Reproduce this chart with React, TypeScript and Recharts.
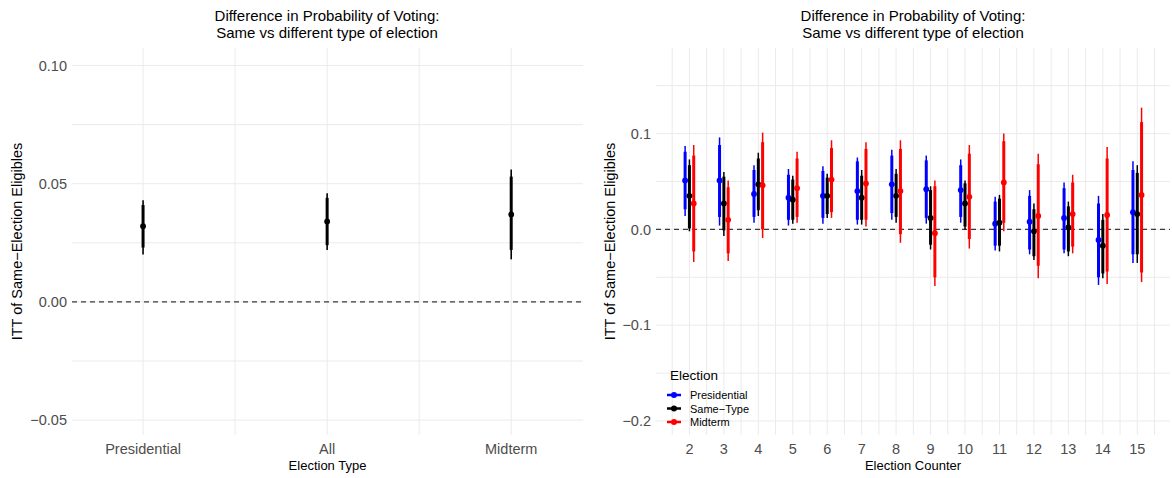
import React from 'react'
import {
  ComposedChart,
  Scatter,
  ErrorBar,
  XAxis,
  YAxis,
  ReferenceLine,
  Legend,
} from 'recharts'

const FONT = '"Liberation Sans", Arial, Helvetica, sans-serif'
const GRID = '#EBEBEB'
const TICK_GREY = '#4D4D4D'

// left panel: pooled estimates by election type
const typeLabels = ['Presidential', 'All', 'Midterm']
const typeEst = [0.032, 0.034, 0.037]
const typeThickLo = [0.023, 0.024, 0.022]
const typeThickHi = [0.041, 0.044, 0.053]
const typeThinLo = [0.020, 0.022, 0.018]
const typeThinHi = [0.043, 0.046, 0.056]

// right panel: estimates by election counter
const counters = [2, 3, 4, 5, 6, 7, 8, 9, 10, 11, 12, 13, 14, 15]

const presEst = [0.051, 0.051, 0.037, 0.033, 0.035, 0.040, 0.047, 0.042, 0.041, 0.006, 0.008, 0.012, -0.011, 0.018]
const presThickLo = [0.021, 0.013, 0.013, 0.010, 0.012, 0.010, 0.017, 0.012, 0.013, -0.017, -0.021, -0.021, -0.050, -0.026]
const presThickHi = [0.081, 0.088, 0.062, 0.057, 0.061, 0.071, 0.077, 0.072, 0.067, 0.029, 0.035, 0.043, 0.027, 0.062]
const presThinLo = [0.014, 0.004, 0.007, 0.004, 0.006, 0.005, 0.010, 0.006, 0.007, -0.022, -0.026, -0.025, -0.058, -0.035]
const presThinHi = [0.087, 0.096, 0.067, 0.063, 0.066, 0.075, 0.083, 0.077, 0.073, 0.034, 0.041, 0.049, 0.035, 0.071]

const sameEst = [0.035, 0.027, 0.047, 0.031, 0.035, 0.033, 0.035, 0.012, 0.027, 0.007, -0.002, 0.002, -0.017, 0.016]
const sameThickLo = [0.001, -0.001, 0.020, 0.010, 0.016, 0.010, 0.013, -0.016, 0.003, -0.017, -0.028, -0.023, -0.046, -0.026]
const sameThickHi = [0.067, 0.055, 0.074, 0.052, 0.054, 0.056, 0.058, 0.041, 0.048, 0.032, 0.021, 0.024, 0.010, 0.059]
const sameThinLo = [-0.002, -0.007, 0.014, 0.006, 0.012, 0.005, 0.007, -0.021, 0.000, -0.023, -0.032, -0.028, -0.051, -0.035]
const sameThinHi = [0.073, 0.060, 0.080, 0.056, 0.058, 0.062, 0.063, 0.045, 0.051, 0.036, 0.027, 0.029, 0.016, 0.067]

const midEst = [0.027, 0.010, 0.046, 0.043, 0.052, 0.048, 0.040, -0.004, 0.034, 0.049, 0.014, 0.016, 0.015, 0.036]
const midThickLo = [-0.023, -0.025, 0.000, 0.013, 0.018, 0.010, -0.005, -0.050, -0.010, 0.007, -0.038, -0.018, -0.044, -0.045]
const midThickHi = [0.077, 0.044, 0.091, 0.074, 0.085, 0.084, 0.084, 0.045, 0.079, 0.092, 0.068, 0.049, 0.074, 0.112]
const midThinLo = [-0.034, -0.033, -0.009, 0.007, 0.012, 0.003, -0.014, -0.059, -0.020, -0.002, -0.051, -0.025, -0.057, -0.055]
const midThinHi = [0.088, 0.051, 0.101, 0.081, 0.093, 0.091, 0.093, 0.051, 0.088, 0.100, 0.079, 0.057, 0.086, 0.127]

const seriesNames = ['Presidential', 'Same\u2212Type', 'Midterm']
const seriesColors = ['#0000FF', '#000000', '#FF0000']

// tick / grid values
const leftYTicks = [-0.05, 0, 0.05, 0.1]
const leftYMinor = [-0.025, 0.025, 0.075]
const leftXTicks = [1, 2, 3]
const leftXMinor = [1.5, 2.5]
const rightYTicks = [-0.2, -0.1, 0, 0.1]
const rightYMinor = [-0.15, -0.05, 0.05, 0.15]
const rightXMinor = [1.5, 2.5, 3.5, 4.5, 5.5, 6.5, 7.5, 8.5, 9.5, 10.5, 11.5, 12.5, 13.5, 14.5, 15.5]

const DODGE = 0.125

function buildRows(xs: number[], est: number[], thickLo: number[], thickHi: number[], thinLo: number[], thinHi: number[], shift = 0) {
  return xs.map((x, i) => ({
    x: x + shift,
    y: est[i],
    thick: [est[i] - thickLo[i], thickHi[i] - est[i]],
    thin: [est[i] - thinLo[i], thinHi[i] - est[i]],
  }))
}

const typeRows = buildRows(leftXTicks, typeEst, typeThickLo, typeThickHi, typeThinLo, typeThinHi)
const counterSeries = [
  buildRows(counters, presEst, presThickLo, presThickHi, presThinLo, presThinHi, -DODGE),
  buildRows(counters, sameEst, sameThickLo, sameThickHi, sameThinLo, sameThinHi, 0),
  buildRows(counters, midEst, midThickLo, midThickHi, midThinLo, midThinHi, DODGE),
]

const minus = (s: string) => s.replace('-', '\u2212')
const fmt2 = (v: number) => minus(v.toFixed(2))
const fmt1 = (v: number) => minus(v.toFixed(1))

const dot = (color: string) => (p: any) => <circle cx={p.cx} cy={p.cy} r={2.9} fill={color} />

const tickStyle = { fill: TICK_GREY, fontSize: 14.5, fontFamily: FONT }
const yTitle = {
  value: 'ITT of Same\u2212Election Eligibles',
  angle: -90,
  position: 'insideLeft' as const,
  style: { textAnchor: 'middle', fill: '#000', fontSize: 14.5, fontFamily: FONT },
}

function Title({ center }: { center: number }) {
  return (
    <div
      style={{
        position: 'absolute',
        left: center - 200,
        width: 400,
        top: 7,
        textAlign: 'center',
        fontFamily: FONT,
        fontSize: 15,
        lineHeight: '17px',
        color: '#000',
      }}
    >
      Difference in Probability of Voting:
      <br />
      Same vs different type of election
    </div>
  )
}

function ElectionLegend() {
  return (
    <svg width={110} height={62} style={{ fontFamily: FONT, overflow: 'visible' }}>
      <text x={4} y={14} fontSize={13.5} fill="#000">Election</text>
      {seriesNames.map((name, i) => {
        const y = 29 + i * 13.5
        return (
          <g key={name}>
            <line x1={1} x2={15} y1={y} y2={y} stroke={seriesColors[i]} strokeWidth={2.5} />
            <circle cx={8} cy={y} r={3} fill={seriesColors[i]} />
            <text x={24} y={y + 4} fontSize={11} fill="#000">{name}</text>
          </g>
        )
      })}
    </svg>
  )
}

function LeftPanel() {
  return (
    <ComposedChart width={590} height={478} margin={{ top: 48, right: 7, bottom: 0, left: 0 }}>
      {leftYTicks.concat(leftYMinor).map((v) => (
        <ReferenceLine key={'y' + v} y={v} stroke={GRID} strokeWidth={1} />
      ))}
      {leftXTicks.concat(leftXMinor).map((v) => (
        <ReferenceLine key={'x' + v} x={v} stroke={GRID} strokeWidth={1} />
      ))}
      <ReferenceLine y={0} stroke="#3A3A3A" strokeDasharray="5 4" strokeWidth={1.1} />
      <XAxis
        type="number"
        dataKey="x"
        domain={[0.614, 3.39]}
        ticks={leftXTicks}
        allowDataOverflow
        height={43}
        axisLine={false}
        tickLine={false}
        tickSize={0}
        tickMargin={9}
        tick={tickStyle}
        tickFormatter={(v: number) => typeLabels[v - 1]}
        label={{ value: 'Election Type', position: 'insideBottom', offset: 8, style: { fill: '#000', fontSize: 13, fontFamily: FONT } }}
      />
      <YAxis
        type="number"
        dataKey="y"
        domain={[-0.0563, 0.1074]}
        ticks={leftYTicks}
        allowDataOverflow
        width={72}
        axisLine={false}
        tickLine={false}
        tickSize={0}
        tickMargin={5}
        tick={tickStyle}
        tickFormatter={fmt2}
        label={{ ...yTitle, offset: 17 }}
      />
      <Scatter data={typeRows} dataKey="y" fill="#000" shape={dot('#000')} isAnimationActive={false}>
        <ErrorBar dataKey="thin" direction="y" width={0} stroke="#000" strokeWidth={1.6} isAnimationActive={false} />
        <ErrorBar dataKey="thick" direction="y" width={0} stroke="#000" strokeWidth={3} isAnimationActive={false} />
      </Scatter>
    </ComposedChart>
  )
}

function RightPanel() {
  return (
    <ComposedChart width={582} height={478} margin={{ top: 48, right: 2, bottom: 0, left: 0 }}>
      {rightYTicks.concat(rightYMinor).map((v) => (
        <ReferenceLine key={'y' + v} y={v} stroke={GRID} strokeWidth={1} />
      ))}
      {counters.concat(rightXMinor).map((v) => (
        <ReferenceLine key={'x' + v} x={v} stroke={GRID} strokeWidth={1} />
      ))}
      <ReferenceLine y={0} stroke="#3A3A3A" strokeDasharray="5 4" strokeWidth={1.1} />
      <XAxis
        type="number"
        dataKey="x"
        domain={[1.03, 15.95]}
        ticks={counters}
        allowDataOverflow
        height={43}
        axisLine={false}
        tickLine={false}
        tickSize={0}
        tickMargin={9}
        tick={tickStyle}
        label={{ value: 'Election Counter', position: 'insideBottom', offset: 8, style: { fill: '#000', fontSize: 13, fontFamily: FONT } }}
      />
      <YAxis
        type="number"
        dataKey="y"
        domain={[-0.2146, 0.1893]}
        ticks={rightYTicks}
        allowDataOverflow
        width={66}
        axisLine={false}
        tickLine={false}
        tickSize={0}
        tickMargin={5}
        tick={tickStyle}
        tickFormatter={fmt1}
        label={{ ...yTitle, offset: 20 }}
      />
      {counterSeries.map((rows, i) => (
        <Scatter
          key={seriesNames[i]}
          name={seriesNames[i]}
          data={rows}
          dataKey="y"
          fill={seriesColors[i]}
          shape={dot(seriesColors[i])}
          isAnimationActive={false}
        >
          <ErrorBar dataKey="thin" direction="y" width={0} stroke={seriesColors[i]} strokeWidth={1.5} isAnimationActive={false} />
          <ErrorBar dataKey="thick" direction="y" width={0} stroke={seriesColors[i]} strokeWidth={3} isAnimationActive={false} />
        </Scatter>
      ))}
      <Legend
        layout="vertical"
        align="center"
        verticalAlign="middle"
        wrapperStyle={{ left: 76, top: 366, width: 110 }}
        content={() => <ElectionLegend />}
      />
    </ComposedChart>
  )
}

export default function App() {
  return (
    <div
      style={{
        position: 'absolute',
        left: 0,
        top: 0,
        width: 1172,
        height: 478,
        background: '#fff',
        fontFamily: FONT,
      }}
    >
      <div style={{ position: 'absolute', left: 0, top: 0 }}>
        <LeftPanel />
      </div>
      <div style={{ position: 'absolute', left: 590, top: 0 }}>
        <RightPanel />
      </div>
      <Title center={327} />
      <Title center={913} />
    </div>
  )
}
